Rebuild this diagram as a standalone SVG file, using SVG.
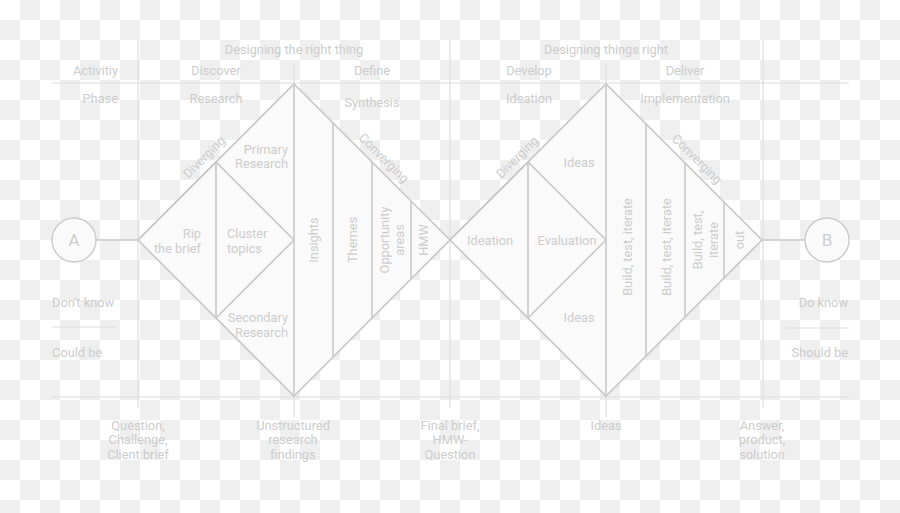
<svg xmlns="http://www.w3.org/2000/svg" width="900" height="513" viewBox="0 0 900 513">
<defs>
<pattern id="checker" x="0" y="0" width="40" height="40" patternUnits="userSpaceOnUse">
<rect width="40" height="40" fill="#ffffff"/>
<rect x="20" y="0" width="20" height="20" fill="#efefef"/>
<rect x="0" y="20" width="20" height="20" fill="#efefef"/>
</pattern>
</defs>
<style>
.t{font-family:Roboto,"Liberation Sans",sans-serif;font-size:12.8px;fill:#cdcdcd}
.m{text-anchor:middle}
.e{text-anchor:end}
.g{stroke:#dedede;stroke-width:1.2;fill:none}
.d{stroke:#c9c9c9;stroke-width:1.6;fill:#fafafa;stroke-linejoin:miter}
.l{stroke:#c9c9c9;stroke-width:1.6;fill:none}
.c{stroke:#cbcbcb;stroke-width:1.4;fill:#fafafa}
.big{font-size:17px}
</style>
<rect width="900" height="513" fill="url(#checker)"/>

<g id="grid">
<line class="g" x1="52" y1="83" x2="849" y2="83"/>
<line class="g" x1="51" y1="397" x2="849" y2="397"/>
<line class="g" x1="138" y1="40" x2="138" y2="408"/>
<line class="g" x1="450" y1="40" x2="450" y2="408"/>
<line class="g" x1="763" y1="40" x2="763" y2="408"/>
<line class="g" x1="294" y1="63" x2="294" y2="84"/>
<line class="g" x1="606" y1="63" x2="606" y2="84"/>
<line class="g" x1="294" y1="396" x2="294" y2="417"/>
<line class="g" x1="606" y1="396" x2="606" y2="417"/>
<line class="g" x1="52" y1="327" x2="116" y2="327"/>
<line class="g" x1="785" y1="328" x2="849" y2="328"/>
</g>

<g id="headers">
<text class="t m" x="294" y="53.5">Designing the right thing</text>
<text class="t m" x="606" y="53.5">Designing things right</text>
<text class="t e" x="118" y="74.5">Activitiy</text>
<text class="t m" x="216" y="74.5">Discover</text>
<text class="t m" x="372" y="74.5">Define</text>
<text class="t m" x="529" y="74.5">Develop</text>
<text class="t m" x="685" y="74.5">Deliver</text>
<text class="t e" x="118" y="102.5">Phase</text>
<text class="t m" x="216" y="102.5">Research</text>
<text class="t m" x="372" y="107">Synthesis</text>
<text class="t m" x="529" y="102.5">Ideation</text>
<text class="t m" x="685" y="102.5">Implementation</text>
<text class="t" x="52" y="306.5">Don't know</text>
<text class="t" x="52" y="356.5">Could be</text>
<text class="t e" x="848" y="306.5">Do know</text>
<text class="t e" x="848" y="356.5">Should be</text>
</g>

<g id="connectors">
<line class="l" x1="96" y1="240" x2="138" y2="240"/>
<line class="l" x1="762" y1="240" x2="805" y2="240"/>
</g>

<g id="node-a">
<circle class="c" cx="74" cy="240" r="22"/>
<text class="t m big" x="74" y="246">A</text>
</g>

<g id="node-b">
<circle class="c" cx="827" cy="240" r="22"/>
<text class="t m big" x="827" y="246">B</text>
</g>

<g id="diamond-1">
<polygon class="d" points="138,240 294,84 450,240 294,396"/>
<polyline class="l" points="138,240 216,162 294,240 216,318"/>
<line class="l" x1="216" y1="162" x2="216" y2="318"/>
<line class="l" x1="294" y1="84" x2="294" y2="396"/>
<line class="l" x1="333" y1="123" x2="333" y2="357"/>
<line class="l" x1="372" y1="162" x2="372" y2="318"/>
<line class="l" x1="411" y1="201" x2="411" y2="279"/>
<text class="t e" x="288" y="153.5">Primary</text>
<text class="t e" x="288" y="167.5">Research</text>
<text class="t e" x="201" y="237.5">Rip</text>
<text class="t e" x="201" y="252.5">the brief</text>
<text class="t" x="227" y="237.5">Cluster</text>
<text class="t" x="227" y="252.5">topics</text>
<text class="t e" x="288" y="321.5">Secondary</text>
<text class="t e" x="288" y="336.5">Research</text>
<text class="t m" transform="translate(313,240) rotate(-90)" y="4.5">Insights</text>
<text class="t m" transform="translate(352,240) rotate(-90)" y="4.5">Themes</text>
<text class="t m" transform="translate(391.5,240) rotate(-90)"><tspan x="0" y="-3">Opportunity</tspan><tspan x="0" y="12">areas</tspan></text>
<text class="t m" transform="translate(423,240) rotate(-90)" y="4.5">HMW</text>
<text class="t m" transform="translate(204,157) rotate(-45)" y="4.5">Diverging</text>
<text class="t m" transform="translate(384,158) rotate(45)" y="4.5">Converging</text>
</g>

<g id="diamond-2">
<polygon class="d" points="450,240 606,84 762,240 606,396"/>
<polyline class="l" points="450,240 528,162 606,240 528,318"/>
<line class="l" x1="528" y1="162" x2="528" y2="318"/>
<line class="l" x1="606" y1="84" x2="606" y2="396"/>
<line class="l" x1="646" y1="124" x2="646" y2="356"/>
<line class="l" x1="685" y1="163" x2="685" y2="317"/>
<line class="l" x1="724" y1="202" x2="724" y2="278"/>
<text class="t m" x="579" y="166.5">Ideas</text>
<text class="t m" x="490" y="244.5">Ideation</text>
<text class="t m" x="567" y="244.5">Evaluation</text>
<text class="t m" x="579" y="321.5">Ideas</text>
<text class="t m" transform="translate(627,247) rotate(-90)" y="4.5">Build, test, iterate</text>
<text class="t m" transform="translate(666,247) rotate(-90)" y="4.5">Build, test, iterate</text>
<text class="t m" transform="translate(705,240) rotate(-90)"><tspan x="0" y="-3.5">Build, test,</tspan><tspan x="0" y="12.5">iterate</tspan></text>
<text class="t m" transform="translate(739,240) rotate(-90)" y="4.5">out</text>
<text class="t m" transform="translate(517,157) rotate(-45)" y="4.5">Diverging</text>
<text class="t m" transform="translate(697,159) rotate(45)" y="4.5">Converging</text>
</g>

<g id="outputs">
<text class="t m"><tspan x="138" y="429.5">Question,</tspan><tspan x="138" y="444">Challenge,</tspan><tspan x="138" y="458.5">Client brief</tspan></text>
<text class="t m"><tspan x="293" y="429.5">Unstructured</tspan><tspan x="293" y="444">research</tspan><tspan x="293" y="458.5">findings</tspan></text>
<text class="t m"><tspan x="450" y="429.5">Final brief,</tspan><tspan x="450" y="444">HMW-</tspan><tspan x="450" y="458.5">Question</tspan></text>
<text class="t m" x="606" y="429.5">Ideas</text>
<text class="t m"><tspan x="762" y="429.5">Answer,</tspan><tspan x="762" y="444">product,</tspan><tspan x="762" y="458.5">solution</tspan></text>
</g>
</svg>
